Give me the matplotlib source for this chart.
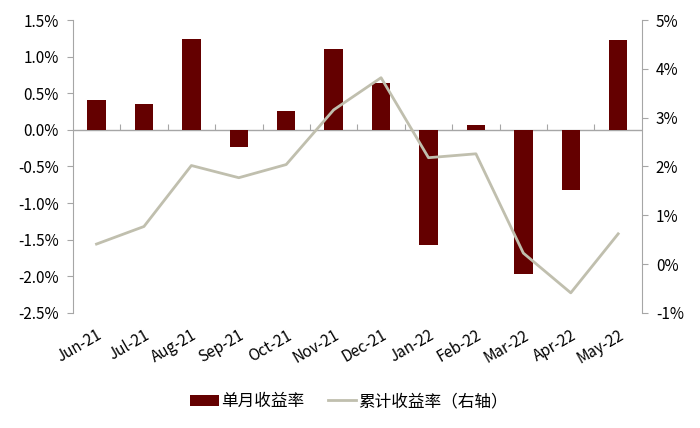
import matplotlib.pyplot as plt
import numpy as np

plt.rcParams['font.family'] = ['Noto Sans CJK SC', 'DejaVu Sans']

months = ['Jun-21', 'Jul-21', 'Aug-21', 'Sep-21', 'Oct-21', 'Nov-21',
          'Dec-21', 'Jan-22', 'Feb-22', 'Mar-22', 'Apr-22', 'May-22']
# monthly return (%), left axis
monthly = [0.41, 0.355, 1.237, -0.236, 0.255, 1.11, 0.637, -1.573, 0.068, -1.974, -0.828, 1.228]
# cumulative return (%), right axis
cumulative = [0.41, 0.77, 2.02, 1.77, 2.04, 3.16, 3.82, 2.18, 2.26, 0.225, -0.59, 0.62]

bar_color = '#640000'
line_color = '#C0BFAE'
spine_color = '#A6A6A6'

fig = plt.figure(figsize=(7, 4.28), dpi=100)
ax = fig.add_axes([0.104, 0.269, 0.813, 0.684])
x = np.arange(len(months))

bars = ax.bar(x, monthly, width=0.39, color=bar_color, label='单月收益率', zorder=2)
ax.axhline(0, color=spine_color, linewidth=1, zorder=1)
ax.set_xlim(-0.5, len(months) - 0.5)
ax.set_ylim(-2.5, 1.5)
ax.set_yticks(np.arange(-2.5, 1.51, 0.5))
ax.set_yticklabels(['%.1f%%' % v for v in np.arange(-2.5, 1.51, 0.5)], fontsize=11)

# category labels at bottom
ax.set_xticks(x)
ax.set_xticklabels(months, rotation=30, ha='right', rotation_mode='anchor', fontsize=11)
ax.tick_params(axis='x', length=0, pad=10)
ax.spines['bottom'].set_visible(False)
ax.spines['top'].set_visible(False)
ax.spines['right'].set_visible(False)
ax.spines['left'].set_color(spine_color)
ax.tick_params(axis='y', color=spine_color, length=4, pad=6)

# zero line with boundary ticks
zero_pos = 2.5 / 4.0
sec = ax.secondary_xaxis(zero_pos)
sec.set_xticks(np.arange(0.5, len(months) - 1, 1.0))
sec.set_xticklabels([])
sec.tick_params(axis='x', color=spine_color, length=4, direction='out')
sec.spines['bottom'].set_color(spine_color)
sec.spines['top'].set_visible(False)

ax2 = ax.twinx()
line, = ax2.plot(x, cumulative, color=line_color, linewidth=2, label='累计收益率（右轴）')
ax2.set_ylim(-1, 5)
ax2.set_yticks(range(-1, 6))
ax2.set_yticklabels(['%d%%' % v for v in range(-1, 6)], fontsize=11)
ax2.spines['top'].set_visible(False)
ax2.spines['left'].set_visible(False)
ax2.spines['bottom'].set_visible(False)
ax2.spines['right'].set_color(spine_color)
ax2.tick_params(axis='y', color=spine_color, length=4, pad=6)

fig.legend([bars, line], ['单月收益率', '累计收益率（右轴）'], loc='center',
           bbox_to_anchor=(0.499, 0.062), ncol=2, frameon=False, fontsize=12,
           handlelength=1.7, handleheight=0.65, columnspacing=1.4, handletextpad=0.15)

fig.savefig('out.png', dpi=100)
